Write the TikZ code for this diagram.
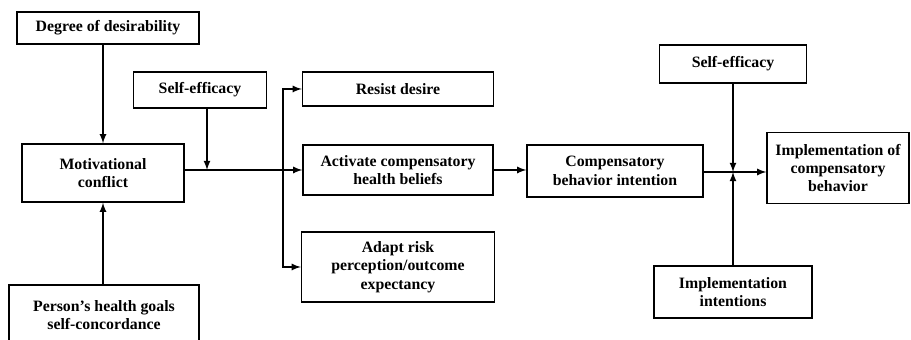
\documentclass[tikz,border=0pt]{standalone}
\usepackage{fontspec}
\setmainfont{Liberation Serif}
\usetikzlibrary{arrows}
\usetikzlibrary{calc}
\tikzstyle{box} = [draw, line width=0.8pt, align=center, inner sep=2pt, font=\bfseries\fontsize{9}{10.5}\selectfont]
\tikzstyle{flow} = [->, >=latex, line width=0.8pt]

\begin{document}
\begin{tikzpicture}[x=0.02cm, y=-0.02cm]
	\useasboundingbox (0,0) rectangle (911,340);
	\clip (0,0) rectangle (911,340);

	% left part
	\node (desire)   at(108,28)  [box, minimum width=3.64cm, minimum height=0.64cm] {Degree of desirability};
	\node (se1)      at(200,90)  [box, minimum width=2.66cm, minimum height=0.72cm] {Self-efficacy};
	\node (conflict) at(103,173) [box, minimum width=3.24cm, minimum height=1.16cm] {Motivational\\conflict};
	\node (goals)    at(104,315) [box, minimum width=3.80cm, minimum height=1.20cm] {Person's health goals\\self-concordance};

	% middle
	\node (resist)   at(398,89)  [box, minimum width=3.82cm, minimum height=0.68cm] {Resist desire};
	\node (activate) at(398,170) [box, minimum width=3.80cm, minimum height=1.00cm] {Activate compensatory\\health beliefs};
	\node (adapt)    at(398,267) [box, minimum width=3.86cm, minimum height=1.40cm] {Adapt risk\\perception/outcome\\expectancy};

	% right part
	\node (intent)   at(615,171) [box, minimum width=3.52cm, minimum height=1.04cm] {Compensatory\\behavior intention};
	\node (se2)      at(733,64)  [box, minimum width=2.94cm, minimum height=0.76cm] {Self-efficacy};
	\node (impl)     at(838,168) [box, minimum width=2.84cm, minimum height=1.42cm] {Implementation of\\compensatory\\behavior};
	\node (ii)       at(733,292) [box, minimum width=3.16cm, minimum height=1.04cm] {Implementation\\intentions};

	\coordinate (m1) at(207,170);
	\coordinate (br) at(283,170);
	\coordinate (m2) at(733,172);

	\draw[flow] (desire.south -| conflict.north) -- (conflict.north);
	\draw[flow] (goals.north -| conflict.south) -- (conflict.south);
	\draw[flow] (conflict.east |- activate.west) -- (activate.west);
	\draw[flow] (se1.south -| m1) -- (m1);
	\draw[flow] (br) |- (resist.west);
	\draw[flow] (br) |- (adapt.west);

	\draw[flow] (activate.east) -- (activate.east -| intent.west);
	\draw[flow] (intent.east |- m2) -- (impl.west |- m2);
	\draw[flow] (se2.south -| m2) -- (m2);
	\draw[flow] (ii.north -| m2) -- (m2);
\end{tikzpicture}
\end{document}
